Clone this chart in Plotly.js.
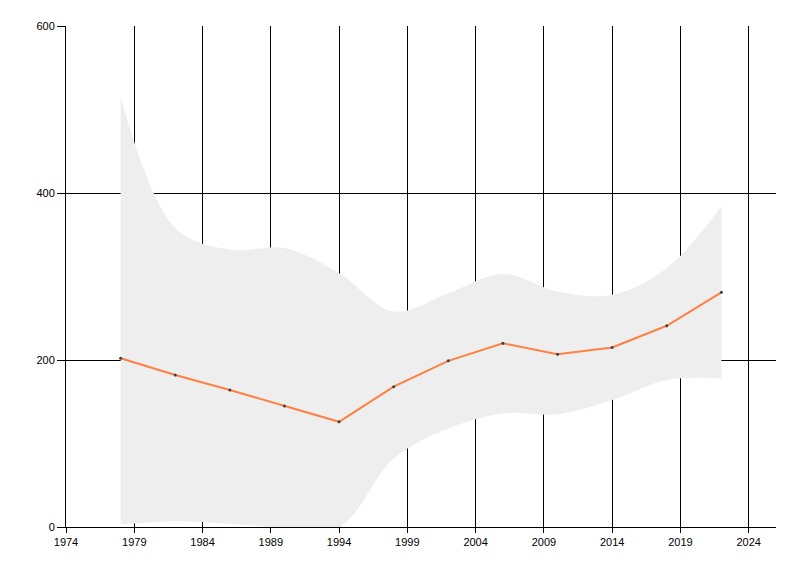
<!DOCTYPE html>
<html>
<head>
<meta charset="utf-8">
<script src="https://cdn.plot.ly/plotly-3.0.1.min.js"></script>
<style>
  html, body { margin: 0; padding: 0; background: #fff; }
  #chart { width: 800px; height: 576px; }
</style>
</head>
<body>
<div id="chart"></div>
<script>
// years of each observation
const years = [1978, 1982, 1986, 1990, 1994, 1998, 2002, 2006, 2010, 2014, 2018, 2022];
// central estimate (orange line)
const values = [202, 182, 164, 145, 126, 168, 199, 220, 207, 215, 241, 281];
// band bounds (grey area)
const upper = [515, 358, 332, 334, 304, 258, 280, 303, 282, 278, 310, 384];
const lower = [3, 7, 4, -1, 0, 82, 118, 136, 135, 152, 176, 178];

const xTicks = [1974, 1979, 1984, 1989, 1994, 1999, 2004, 2009, 2014, 2019, 2024];
const yTicks = [0, 200, 400, 600];

const bandLow = {
  x: years,
  y: lower,
  type: 'scatter',
  mode: 'lines',
  line: { width: 0, shape: 'spline', smoothing: 1 },
  hoverinfo: 'skip',
  showlegend: false
};

const bandHigh = {
  x: years,
  y: upper,
  type: 'scatter',
  mode: 'lines',
  fill: 'tonexty',
  fillcolor: '#eeeeee',
  line: { width: 0, shape: 'spline', smoothing: 1 },
  hoverinfo: 'skip',
  showlegend: false
};

const serie = {
  x: years,
  y: values,
  type: 'scatter',
  mode: 'lines+markers',
  line: { color: '#ff8040', width: 2 },
  marker: { color: '#404040', size: 3 },
  showlegend: false
};

var layout = {
  width: 800,
  height: 576,
  margin: { l: 66, r: 24, t: 26, b: 49 },
  paper_bgcolor: '#ffffff',
  plot_bgcolor: '#ffffff',
  font: { family: 'Liberation Sans, Arial, sans-serif', size: 11, color: '#000000' },
  showlegend: false,
  xaxis: {
    range: [1974, 2026],
    tickvals: xTicks,
    ticktext: xTicks.map(String),
    ticks: 'outside',
    ticklen: 5,
    tickcolor: '#000',
    showgrid: true,
    gridcolor: '#000',
    gridwidth: 1,
    showline: true,
    linecolor: '#000',
    zeroline: false
  },
  yaxis: {
    range: [0, 600],
    tickvals: yTicks,
    ticks: 'outside',
    ticklen: 8,
    tickcolor: '#000',
    showgrid: true,
    gridcolor: '#000',
    gridwidth: 1,
    showline: true,
    linecolor: '#000',
    zeroline: false
  },
  hovermode: false
};

Plotly.newPlot('chart', [bandLow, bandHigh, serie], layout, { staticPlot: true });
</script>
</body>
</html>
